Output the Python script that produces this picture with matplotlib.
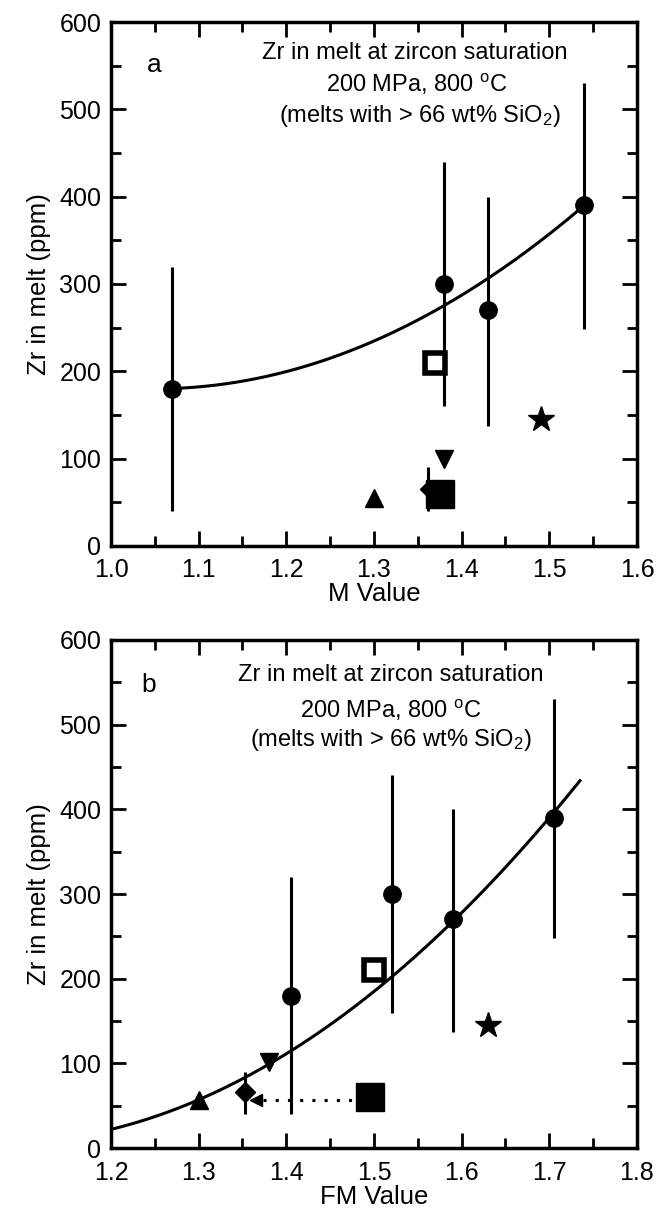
import numpy as np
import matplotlib
matplotlib.use("Agg")
import matplotlib.pyplot as plt
from matplotlib.ticker import MultipleLocator, FormatStrFormatter

plt.rcParams['font.family'] = ['Liberation Sans', 'DejaVu Sans']
plt.rcParams['mathtext.default'] = 'regular'

# Panel a: Zr vs M value
m_circ_x = [1.07, 1.38, 1.43, 1.54]
m_circ_y = [180, 300, 270, 390]
m_circ_lo = [40, 160, 137, 248]
m_circ_hi = [320, 440, 400, 530]
m_open_sq = (1.37, 210)
m_fill_sq = (1.375, 60)
m_tri_up = (1.30, 55)
m_tri_down = (1.38, 100)
m_diamond = (1.362, 65)
m_diamond_err = (40, 90)
m_star = (1.49, 145)
m_fit = (180.0, 875.0, 1.05)   # y = a + b*(x - x0)^2
m_fit_range = (1.07, 1.545)

# Panel b: Zr vs FM value
fm_circ_x = [1.405, 1.52, 1.59, 1.705]
fm_circ_y = [180, 300, 270, 390]
fm_circ_lo = [40, 160, 137, 248]
fm_circ_hi = [320, 440, 400, 530]
fm_open_sq = (1.50, 210)
fm_fill_sq = (1.495, 60)
fm_tri_up = (1.30, 57)
fm_tri_down = (1.38, 102)
fm_diamond = (1.353, 66)
fm_diamond_err = (40, 90)
fm_star = (1.63, 145)
fm_shift = (1.365, 1.48, 57)  # dotted arrow: x_end, x_start, y
fm_fit = (22.0, 253.5, 965.0, 1.2)  # y = a + b*(x-x0) + c*(x-x0)^2
fm_fit_range = (1.2, 1.735)

title_lines = ["Zr in melt at zircon saturation",
               "200 MPa, 800 $^{o}$C",
               "(melts with > 66 wt% SiO$_{2}$)"]

fig = plt.figure(figsize=(6.58, 12.16), dpi=100)
ax_a = fig.add_axes([0.1687, 0.551, 0.7993, 0.4309])
ax_b = fig.add_axes([0.1687, 0.0559, 0.7993, 0.4178])

LW_ERR = 2.2
FS_TICK = 18
FS_LAB = 18.5
FS_TXT = 17


def style_axes(ax, xlim, xlabel):
    ax.set_xlim(*xlim)
    ax.set_ylim(0, 600)
    ax.xaxis.set_major_locator(MultipleLocator(0.1))
    ax.xaxis.set_minor_locator(MultipleLocator(0.05))
    ax.yaxis.set_major_locator(MultipleLocator(100))
    ax.yaxis.set_minor_locator(MultipleLocator(50))
    ax.tick_params(which='both', direction='in', top=True, right=True,
                   width=2.0, labelsize=FS_TICK)
    ax.tick_params(axis='x', which='major', pad=9)
    ax.tick_params(axis='y', which='major', pad=7)
    ax.tick_params(which='major', length=11)
    ax.tick_params(which='minor', length=7)
    ax.xaxis.set_major_formatter(FormatStrFormatter('%.1f'))
    for s in ax.spines.values():
        s.set_linewidth(2.5)
    ax.set_xlabel(xlabel, fontsize=FS_LAB, labelpad=0)
    ax.set_ylabel("Zr in melt (ppm)", fontsize=FS_LAB, labelpad=6)


def draw_points(ax, cx, cy, lo, hi, open_sq, fill_sq, tri_up, tri_down,
                diamond, diamond_err, star, diamond_size):
    ax.vlines(cx, lo, hi, colors='black', lw=LW_ERR, zorder=2)
    ax.plot(cx, cy, 'o', color='black', ms=12.5, zorder=4)
    ax.vlines(diamond[0], diamond_err[0], diamond_err[1], colors='black',
              lw=LW_ERR, zorder=2)
    ax.plot(*diamond, 'D', color='black', ms=diamond_size, zorder=3)
    ax.plot(*fill_sq, 's', color='black', ms=19.5, zorder=5)
    ax.plot(*open_sq, 's', mfc='white', mec='black', mew=4, ms=14.5, zorder=5)
    ax.plot(*tri_up, '^', color='black', ms=12.5, zorder=4)
    ax.plot(*tri_down, 'v', color='black', ms=13, zorder=4)
    ax.plot(*star, '*', color='black', ms=19, zorder=4)


# ---- panel a ----
style_axes(ax_a, (1.0, 1.6), "M Value")
xa = np.linspace(*m_fit_range, 200)
ya = m_fit[0] + m_fit[1] * (xa - m_fit[2]) ** 2
ax_a.plot(xa, ya, color='black', lw=2.2, zorder=3)
draw_points(ax_a, m_circ_x, m_circ_y, m_circ_lo, m_circ_hi, m_open_sq,
            m_fill_sq, m_tri_up, m_tri_down, m_diamond, m_diamond_err, m_star,
            8)
ax_a.text(1.049, 551, "a", fontsize=19, ha='center', va='center')
ax_a.text(1.346, 565, title_lines[0], fontsize=FS_TXT, ha='center', va='center')
ax_a.text(1.349, 528, title_lines[1], fontsize=FS_TXT, ha='center', va='center')
ax_a.text(1.352, 492, title_lines[2], fontsize=FS_TXT, ha='center', va='center')

# ---- panel b ----
style_axes(ax_b, (1.2, 1.8), "FM Value")
xb = np.linspace(*fm_fit_range, 200)
yb = fm_fit[0] + fm_fit[1] * (xb - fm_fit[3]) + fm_fit[2] * (xb - fm_fit[3]) ** 2
ax_b.plot(xb, yb, color='black', lw=2.2, zorder=3)
draw_points(ax_b, fm_circ_x, fm_circ_y, fm_circ_lo, fm_circ_hi, fm_open_sq,
            fm_fill_sq, fm_tri_up, fm_tri_down, fm_diamond, fm_diamond_err,
            fm_star, 10)
ax_b.plot([fm_shift[0] + 0.008, fm_shift[1]], [fm_shift[2], fm_shift[2]],
          color='black', lw=2.2, ls=(0, (1, 3)), zorder=2)
ax_b.plot(fm_shift[0], fm_shift[2], marker='<', color='black', ms=8, zorder=4)
ax_b.text(1.243, 547, "b", fontsize=19, ha='center', va='center')
ax_b.text(1.519, 559, title_lines[0], fontsize=FS_TXT, ha='center', va='center')
ax_b.text(1.519, 517, title_lines[1], fontsize=FS_TXT, ha='center', va='center')
ax_b.text(1.519, 482, title_lines[2], fontsize=FS_TXT, ha='center', va='center')

fig.savefig("out.png", dpi=100)
